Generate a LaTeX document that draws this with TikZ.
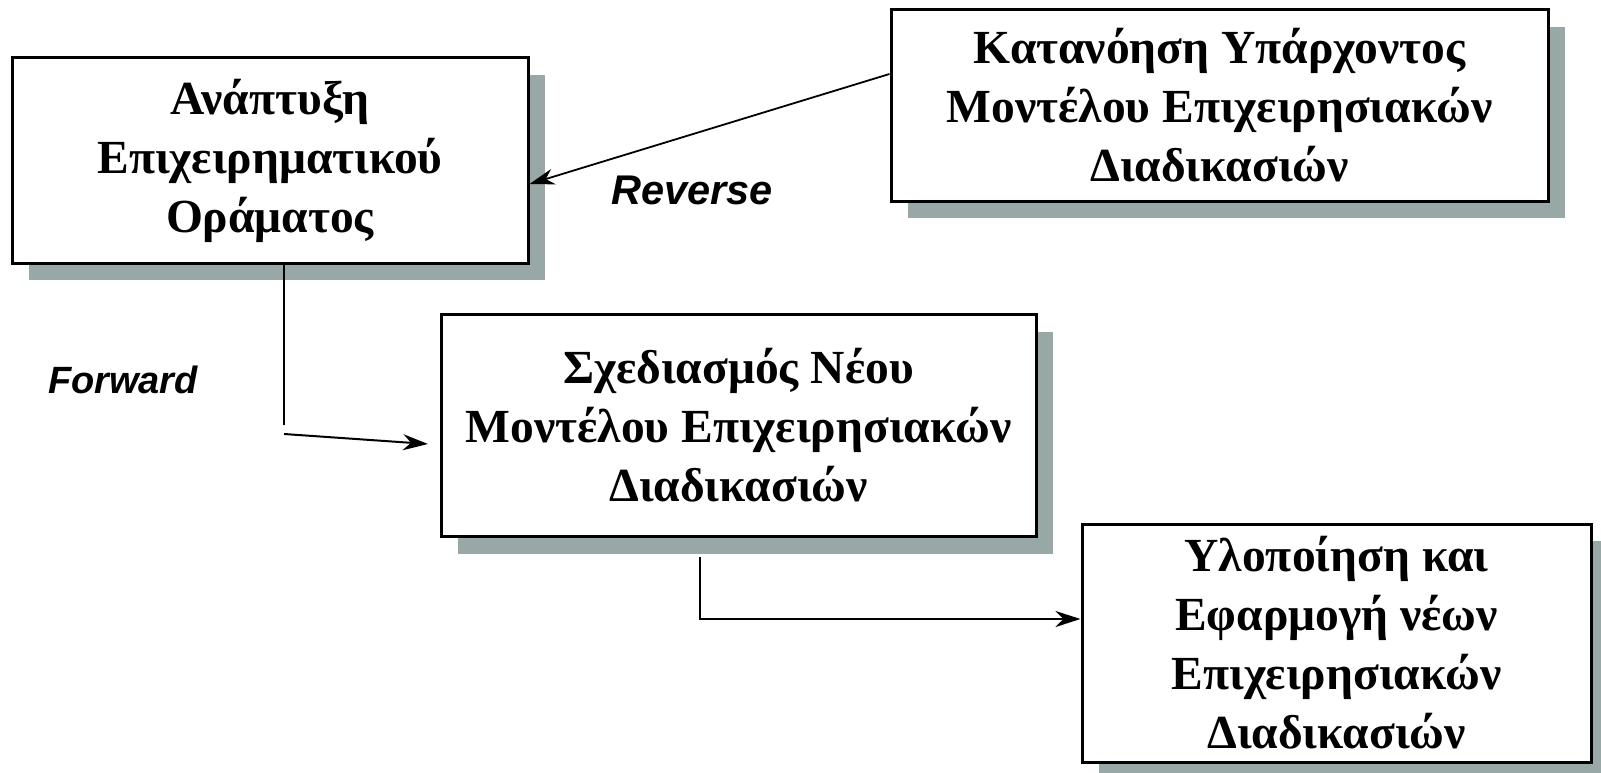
\documentclass[tikz,border=0pt]{standalone}
\usepackage{fontspec}
\setmainfont{Liberation Serif}
\newfontfamily\labfont{Liberation Sans}
\usetikzlibrary{shadows,arrows.meta,calc}
\definecolor{shadowc}{RGB}{151,168,166}
\tikzset{
  procbox/.style={draw=black, line width=3pt, fill=white, inner sep=0pt, align=center,
    general shadow={fill=shadowc, shadow xshift=17pt, shadow yshift=-17pt},
    font=\fontsize{47.5}{59}\selectfont\bfseries},
  conn/.style={line width=2pt, draw=black},
  arr/.style={conn, -{Stealth[length=25pt,width=16pt,inset=8pt]}},
  lab/.style={font=\labfont\fontsize{40}{48}\selectfont\bfseries\itshape, inner sep=0pt}
}
\begin{document}
\begin{tikzpicture}[x=1pt,y=-1pt]
\useasboundingbox (0,0) rectangle (1601,773);
\node[procbox, minimum width=516pt, minimum height=205pt] (A) at (270,160.5)
  {Ανάπτυξη\\Επιχειρηματικού\\Οράματος};
\node[procbox, minimum width=657pt, minimum height=191pt] (K) at (1219.5,105.5)
  {Κατανόηση Υπάρχοντος\\Μοντέλου Επιχειρησιακών\\Διαδικασιών};
\node[procbox, minimum width=595pt, minimum height=222pt] (S) at (738.5,425.5)
  {Σχεδιασμός Νέου\\Μοντέλου Επιχειρησιακών\\Διαδικασιών};
\node[procbox, minimum width=509pt, minimum height=238pt] (Y) at (1336.5,643)
  {Υλοποίηση και\\Εφαρμογή νέων\\Επιχειρησιακών\\Διαδικασιών};
\node[lab, font=\labfont\fontsize{41.5}{48}\selectfont\bfseries\itshape] (rev) at (692,190) {Reverse};
\node[lab, font=\labfont\fontsize{38}{46}\selectfont\bfseries\itshape] (fwd) at (123,380) {Forward};
% Reverse connector
\draw[arr, line width=1.8pt] ([yshift=31.5pt]K.west) -- ([yshift=-23.5pt]A.east);
% Forward connector
\coordinate (fwa) at (284,425);
\coordinate (fwb) at (284,434);
\coordinate (fwc) at (428,444);
\draw[conn] ([xshift=14pt]A.south) -- (fwa);
\draw[arr] (fwb) -- (fwc);
% S to Y
\coordinate (sy) at ([xshift=-38.5pt,yshift=-19pt]S.south);
\draw[arr] (sy) |- ([yshift=24pt]Y.west);
\end{tikzpicture}
\end{document}
